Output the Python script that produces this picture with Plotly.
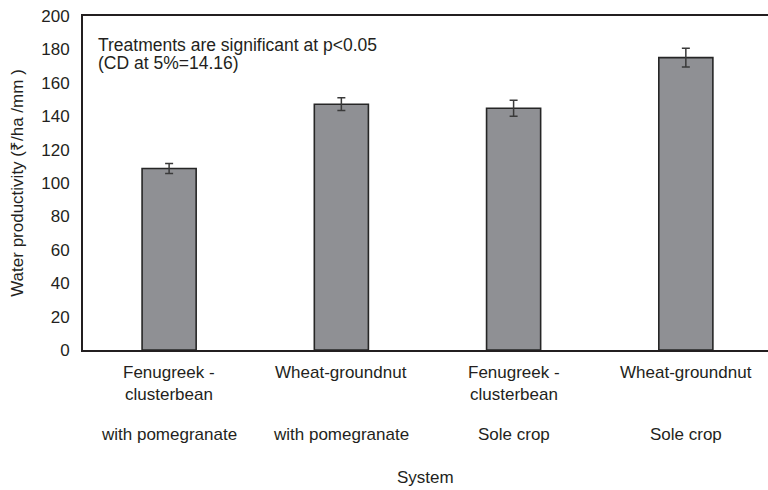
import plotly.graph_objects as go

categories = ["Fenugreek - clusterbean with pomegranate", "Wheat-groundnut with pomegranate",
              "Fenugreek - clusterbean sole crop", "Wheat-groundnut sole crop"]
crop_labels = ["Fenugreek -<br>clusterbean", "Wheat-groundnut", "Fenugreek -<br>clusterbean", "Wheat-groundnut"]
system_labels = ["with pomegranate", "with pomegranate", "Sole crop", "Sole crop"]
values = [108.7, 147.2, 144.8, 175.1]
errors = [3.0, 3.8, 4.8, 5.6]
y_ticks = [0, 20, 40, 60, 80, 100, 120, 140, 160, 180, 200]
note_lines = ["Treatments are significant at p<0.05", "(CD at 5%=14.16)"]

FONT = "Liberation Sans, Arial, sans-serif"
TXT = "#231f20"

x = list(range(len(categories)))

fig = go.Figure()
fig.add_trace(go.Bar(
    x=x, y=values,
    marker=dict(color="#8f9094", line=dict(color="#262626", width=1.6)),
    error_y=dict(type="data", array=errors, visible=True, color="#3a3a3a", thickness=1.5, width=4),
    showlegend=False,
))

def ann(xv, yv, text, xref="x", xanchor="center", size=17):
    return dict(x=xv, y=yv, xref=xref, yref="paper", text=text, showarrow=False,
                xanchor=xanchor, yanchor="middle", align="left",
                font=dict(family=FONT, size=size, color=TXT))

annotations = []
line_y = [-0.0659, -0.1347]
for i in x:
    for j, part in enumerate(crop_labels[i].split("<br>")):
        annotations.append(ann(i, line_y[j], part))
    annotations.append(ann(i, -0.2515, system_labels[i]))
for j, line in enumerate(note_lines):
    annotations.append(ann(0.019, [0.9132, 0.8593][j], line, xref="paper", xanchor="left", size=17.5))
annotations.append(ann(0.5, -0.3832, "System", xref="paper"))

fig.update_layout(
    width=768, height=490,
    margin=dict(l=83, r=0, t=16, b=140),
    paper_bgcolor="white", plot_bgcolor="white",
    bargap=0.686,
    font=dict(family=FONT, size=17, color=TXT),
    annotations=annotations,
    xaxis=dict(range=[-0.5, 3.477], tickvals=x, showticklabels=False, ticks="",
               showline=True, linecolor="#231f20", linewidth=2, mirror=True,
               showgrid=False, zeroline=False),
    yaxis=dict(range=[0, 200], tickvals=y_ticks, ticks="", ticklabelstandoff=8,
               showline=True, linecolor="#231f20", linewidth=2,
               showgrid=False, zeroline=False,
               title=dict(text="Water productivity (₹/ha /mm )", standoff=13,
                          font=dict(family=FONT, size=17, color=TXT))),
)

fig.write_html("out.html", config={"displayModeBar": False},
               post_script="document.body.style.margin='0';document.body.style.overflow='hidden';")
